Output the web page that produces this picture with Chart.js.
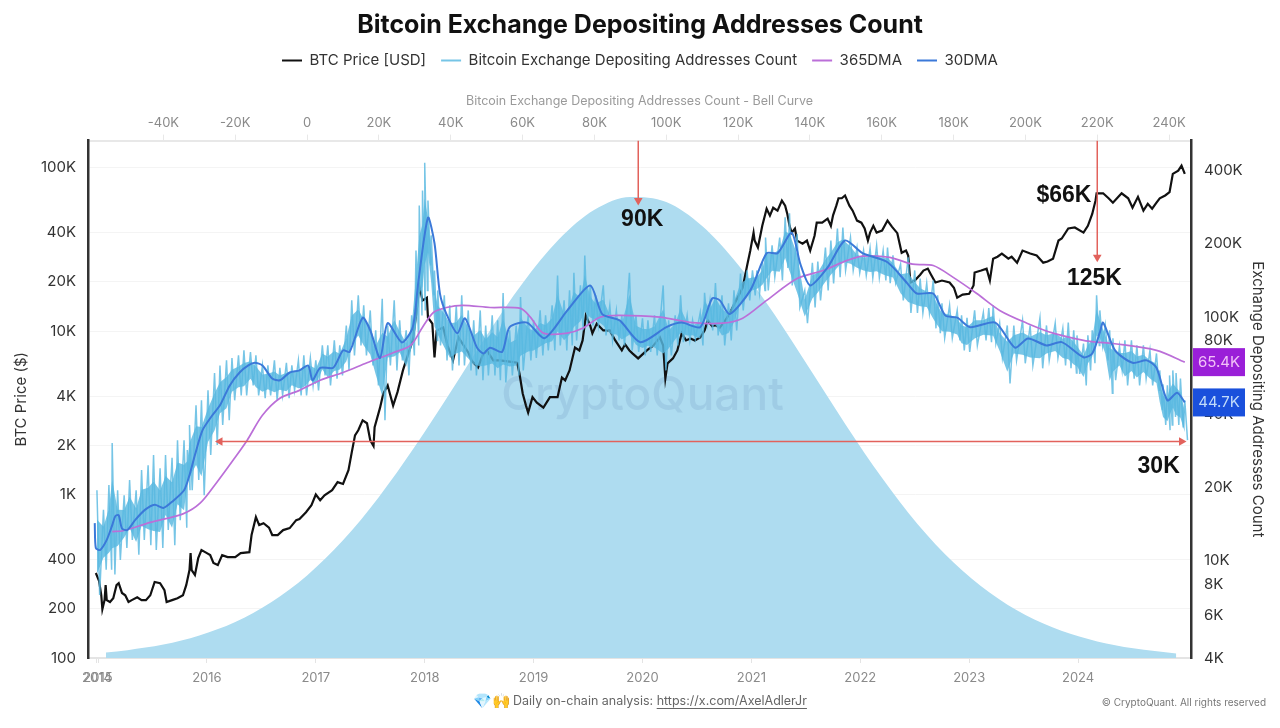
<!DOCTYPE html>
<html>
<head>
<meta charset="utf-8">
<title>Bitcoin Exchange Depositing Addresses Count</title>
<script src="https://cdn.jsdelivr.net/npm/chart.js@4"></script>
<style>
  html, body { margin: 0; padding: 0; background: #fff; }
  canvas { display: block; }
</style>
</head>
<body>
<canvas id="myChart" width="1280" height="728"></canvas>
<script>
// years on the bottom axis, the first two labels sit on top of each other in the original
var yearTicks = [2014.99, 2015, 2016, 2017, 2018, 2019, 2020, 2021, 2022, 2023, 2024];
var yearLabels = ['2014', '2015', '2016', '2017', '2018', '2019', '2020', '2021', '2022', '2023', '2024'];
var bellTicks = [-40, -20, 0, 20, 40, 60, 80, 100, 120, 140, 160, 180, 200, 220, 240];
var priceTicks = [100, 200, 400, 1000, 2000, 4000, 10000, 20000, 40000, 100000];
var countTicks = [4, 6, 8, 10, 20, 40, 60, 80, 100, 200, 400];

var priceDates = [2014.98,2015.01,2015.03,2015.04,2015.06,2015.07,2015.08,2015.11,2015.14,2015.17,2015.19,2015.22,2015.25,2015.28,2015.31,2015.36,2015.40,2015.44,2015.48,2015.52,2015.57,2015.61,2015.63,2015.68,2015.73,2015.78,2015.81,2015.84,2015.85,2015.86,2015.89,2015.92,2015.95,2016.00,2016.03,2016.06,2016.10,2016.14,2016.19,2016.26,2016.31,2016.39,2016.41,2016.45,2016.48,2016.52,2016.57,2016.60,2016.65,2016.70,2016.76,2016.82,2016.85,2016.91,2016.96,2017.00,2017.04,2017.08,2017.15,2017.20,2017.25,2017.30,2017.33,2017.36,2017.39,2017.43,2017.47,2017.50,2017.53,2017.54,2017.59,2017.62,2017.66,2017.71,2017.75,2017.80,2017.85,2017.89,2017.93,2017.95,2017.98,2018.02,2018.03,2018.07,2018.09,2018.11,2018.17,2018.21,2018.26,2018.31,2018.35,2018.40,2018.43,2018.49,2018.53,2018.57,2018.63,2018.69,2018.78,2018.85,2018.87,2018.90,2018.93,2018.95,2018.99,2019.03,2019.09,2019.15,2019.22,2019.26,2019.29,2019.33,2019.38,2019.42,2019.45,2019.48,2019.52,2019.54,2019.58,2019.64,2019.70,2019.75,2019.81,2019.84,2019.88,2019.91,2019.96,2020.00,2020.04,2020.10,2020.16,2020.19,2020.21,2020.23,2020.28,2020.32,2020.36,2020.40,2020.44,2020.48,2020.53,2020.57,2020.60,2020.64,2020.67,2020.71,2020.76,2020.80,2020.86,2020.92,2020.96,2020.99,2021.02,2021.03,2021.06,2021.10,2021.14,2021.17,2021.20,2021.24,2021.28,2021.31,2021.33,2021.35,2021.37,2021.40,2021.42,2021.47,2021.51,2021.54,2021.58,2021.60,2021.65,2021.70,2021.73,2021.75,2021.78,2021.80,2021.83,2021.86,2021.90,2021.93,2021.97,2022.01,2022.04,2022.07,2022.09,2022.12,2022.15,2022.20,2022.25,2022.29,2022.34,2022.38,2022.42,2022.44,2022.46,2022.50,2022.55,2022.58,2022.62,2022.65,2022.69,2022.75,2022.82,2022.86,2022.89,2022.94,2023.00,2023.04,2023.05,2023.11,2023.16,2023.19,2023.22,2023.26,2023.30,2023.36,2023.39,2023.44,2023.49,2023.56,2023.62,2023.68,2023.72,2023.77,2023.82,2023.85,2023.91,2023.97,2024.05,2024.09,2024.13,2024.16,2024.17,2024.23,2024.28,2024.32,2024.37,2024.40,2024.46,2024.50,2024.55,2024.60,2024.64,2024.68,2024.72,2024.75,2024.80,2024.84,2024.87,2024.92,2024.95,2024.98];
var priceValues = [331,295,242,199,226,279,226,220,232,279,287,250,242,220,226,235,226,226,242,292,287,260,220,226,232,242,279,345,438,345,322,408,457,438,426,381,370,426,414,414,438,444,565,727,650,668,627,565,565,606,623,697,708,780,860,1000,923,990,1063,1190,1160,1408,1810,2300,2471,2844,2730,2147,1980,2580,3400,4150,4650,3500,4230,5745,7300,8761,13950,18990,15378,15990,12100,11100,6900,10084,10500,8150,6613,9150,8320,7400,6613,5990,7060,7612,6613,6613,6500,6400,5500,4150,3500,3170,3940,3650,3400,3940,3940,5200,4990,5745,7930,7612,8761,12450,10800,9700,11100,10084,10084,8761,7612,8300,7612,7280,6800,7200,7612,8150,9150,8150,5130,6340,6800,7612,9700,8761,9000,8761,9150,10084,11607,10700,10850,10500,11607,12800,15378,18400,25000,31066,40000,35757,32400,44000,56000,50800,56800,54525,62760,58500,52000,44000,40000,42400,35757,34200,35757,31066,38300,46000,46000,48700,44000,51000,58500,64900,64900,67500,58500,54500,47400,46000,42400,35757,40000,44000,40000,41157,47400,43500,39700,30100,31066,29000,19800,20372,22100,23450,24100,22100,19800,20372,19800,18400,16000,16700,16900,19000,22800,23450,24100,20400,27700,28500,29800,27700,28500,26200,31066,29800,29000,26200,26600,27700,35757,36800,42400,43000,40000,44000,52000,62760,69600,69600,64900,61000,66200,69600,64900,56800,66200,54500,60000,56000,61000,64900,67500,70700,91500,95700,102800,91500];

// daily count in thousands, read as the top and bottom of the noisy band
var depositDates = [2014.99,2015.05,2015.10,2015.13,2015.18,2015.24,2015.29,2015.35,2015.40,2015.46,2015.51,2015.57,2015.62,2015.68,2015.73,2015.79,2015.82,2015.84,2015.90,2015.95,2016.01,2016.07,2016.12,2016.18,2016.23,2016.29,2016.34,2016.40,2016.45,2016.51,2016.56,2016.62,2016.67,2016.73,2016.78,2016.84,2016.89,2016.95,2017.00,2017.06,2017.11,2017.17,2017.22,2017.28,2017.33,2017.39,2017.44,2017.50,2017.55,2017.61,2017.66,2017.72,2017.77,2017.83,2017.88,2017.92,2017.95,2017.98,2018.00,2018.03,2018.06,2018.09,2018.12,2018.18,2018.23,2018.29,2018.34,2018.40,2018.45,2018.51,2018.56,2018.62,2018.67,2018.72,2018.78,2018.84,2018.88,2018.95,2019.00,2019.06,2019.11,2019.17,2019.22,2019.28,2019.33,2019.37,2019.43,2019.47,2019.52,2019.57,2019.64,2019.70,2019.76,2019.81,2019.88,2019.94,2020.00,2020.05,2020.11,2020.19,2020.24,2020.30,2020.35,2020.41,2020.46,2020.53,2020.57,2020.62,2020.67,2020.73,2020.79,2020.84,2020.90,2020.96,2021.01,2021.05,2021.10,2021.13,2021.19,2021.26,2021.31,2021.35,2021.42,2021.49,2021.56,2021.61,2021.68,2021.73,2021.79,2021.84,2021.91,2021.97,2022.03,2022.09,2022.15,2022.21,2022.25,2022.30,2022.37,2022.44,2022.50,2022.55,2022.61,2022.67,2022.71,2022.75,2022.82,2022.89,2022.93,2022.98,2023.05,2023.13,2023.18,2023.22,2023.28,2023.35,2023.41,2023.49,2023.56,2023.65,2023.71,2023.79,2023.86,2023.91,2023.96,2023.99,2024.05,2024.09,2024.13,2024.17,2024.20,2024.25,2024.29,2024.32,2024.38,2024.43,2024.49,2024.54,2024.60,2024.66,2024.72,2024.75,2024.78,2024.82,2024.84,2024.87,2024.90,2024.94,2024.98];
var depositHighK = [19.5,16.2,20.5,30.5,19.5,18.6,21.5,19.5,23.6,24.7,27.2,24,27.2,26.5,31.3,31.3,28.5,36.1,43.5,45.6,50.1,59,63.4,66.5,68,69.7,73.1,72,69.7,63.4,63.4,66.5,62,65,63.4,66.5,69.7,68,66.5,76.6,76.6,80.3,76.6,92.5,117.2,122.9,111.8,106.6,88.3,119,92.5,117.2,97,88.3,101.7,187.8,287.4,331,430,301,216.5,155.5,128.8,122.9,111.8,111.8,122.9,106.6,97,106.6,92.5,101.7,97,125.5,88.3,92.5,121,101.7,97,106.6,101.7,111.8,148.3,117.2,128.8,152,135,179.2,135,122.9,135,111.8,106.6,101.7,152,101.7,99,97,101.7,135,97,101.7,122.9,101.7,97,104.5,126,117.2,138,122.9,114,128.8,151,155.5,155.5,155.5,167,212,197,212,257,267,220,128.8,167,169,193,206.4,231,233,212,193,187.8,192,197,187.8,193,179.2,165,176,155.5,144,138,141.5,122.9,114,111.8,106.6,101.7,99.5,106.6,104.5,109,111.8,94.5,92.5,92.5,97,92.5,99.5,92.5,94.5,90,95,88.3,84.2,78,84.2,88.3,122.9,106.6,92.5,88.3,82,76,80.3,80.3,76.6,76.6,73.1,71,60.5,53,52.5,57.7,60.5,59,56,45.6];
var depositLowK = [7.25,9.2,9.2,8.8,10.1,11.3,12.2,10.6,12.2,11.6,11.1,11.3,13.4,11.6,14.7,13.7,19.5,19.5,21.5,18.6,27.2,29.9,36.1,37.8,45.6,47.8,47.8,52.5,47.8,46.5,47.8,45.6,47.8,46.5,50.1,47.8,47.8,52.5,50.1,57.7,52.5,56,57.7,60.5,69.7,76.6,69.7,63.4,52.5,37.8,63.4,60.5,66.5,57.7,69.7,76.6,101.7,106.6,128.8,163,122.9,80.3,76.6,66.5,60.5,63.4,63.4,60.5,57.7,55.1,57.7,57.7,55.1,54,57.7,57.7,60.5,66.5,68,69.7,73.1,73.1,76.6,73.1,76.6,80.3,88.3,92.5,92.5,92.5,84.2,80.3,80.3,76.6,73.1,72,69.7,72,69.7,60.5,69.7,76.6,79,80.3,81.5,76.6,94.5,88.3,84.2,76.6,80.3,88.3,106.6,117.2,122.9,125,128.8,128.8,146,141.5,159,135,109.6,94.5,109.6,117.2,128.8,137.5,146,155.5,155.5,152,148.3,145,145,141.5,138,138,117.2,104,104,104,104,90,86,82,82,80.3,73.1,72,76.6,80.3,79,78,68,53.5,66.5,64.7,63.4,61.7,66.5,68,63.4,61.7,59,58.5,52.5,60.5,64.7,76.6,76.6,66.5,48.7,55.1,60.5,52.5,56,52.5,56,52.5,50.1,41.5,36.1,34.4,36.1,39,36.1,35.3,31.3];

var ma365Dates = [2015.13,2015.23,2015.48,2015.78,2015.94,2016.09,2016.24,2016.37,2016.51,2016.67,2016.85,2017.04,2017.25,2017.47,2017.71,2017.87,2017.98,2018.08,2018.20,2018.35,2018.60,2018.88,2018.97,2019.09,2019.31,2019.45,2019.61,2019.79,2020.16,2020.46,2020.74,2020.92,2021.14,2021.42,2021.66,2021.88,2022.02,2022.27,2022.48,2022.67,2022.85,2023.07,2023.28,2023.53,2023.77,2024.05,2024.17,2024.32,2024.72,2024.98];
var ma365K = [13.2,13.3,14.4,15.6,17.3,21,25.9,31.3,39.6,46.5,50.1,55.1,59.3,65,71.5,76.6,91,104.5,109.6,111.8,109.6,108.6,100,86,86,90,100,101.7,100,95,94.5,99,117.2,144,155.5,171,178,176,165,163,146,125,106.6,94.5,86,80.3,79,78,73.1,65.4];

var ma30Dates = [2014.97,2014.98,2015.02,2015.08,2015.13,2015.16,2015.19,2015.22,2015.27,2015.34,2015.43,2015.52,2015.60,2015.68,2015.79,2015.84,2015.89,2015.96,2016.05,2016.12,2016.21,2016.30,2016.38,2016.44,2016.51,2016.60,2016.67,2016.76,2016.85,2016.93,2016.97,2017.04,2017.16,2017.25,2017.31,2017.43,2017.50,2017.59,2017.66,2017.79,2017.89,2017.94,2018.03,2018.09,2018.14,2018.20,2018.30,2018.37,2018.48,2018.54,2018.60,2018.71,2018.78,2018.94,2019.10,2019.31,2019.52,2019.63,2019.79,2019.98,2020.22,2020.36,2020.53,2020.64,2020.71,2020.80,2020.99,2021.14,2021.24,2021.37,2021.45,2021.54,2021.70,2021.86,2022.02,2022.25,2022.43,2022.52,2022.67,2022.78,2022.89,2023.01,2023.24,2023.42,2023.54,2023.71,2023.85,2024.05,2024.13,2024.20,2024.23,2024.34,2024.50,2024.63,2024.72,2024.82,2024.91,2024.98];
var ma30K = [14.3,11.3,11.1,12.2,14,15.3,15.4,13.6,13.4,14.7,16.2,17,16.5,17.5,19.5,22.5,27.2,34.4,39.6,43.5,52.5,59.3,63.4,65,63.4,56,55.1,59.3,60.5,63.4,55.1,62,62,73.1,72,99.5,88.3,68,94.5,78.8,91,137.5,256,201,125,103,86,99,75,71,75,72,91,95,82,106.6,135,103,97,79,91,95,91,119.5,117.2,103,128.8,183,183,222,165,135,160,206.4,183,168,138,125,125,101.7,99.5,91,95,75,81.8,76.6,79,68.5,71,86.6,95,73.1,65,66.5,62,45.6,49,44.7];

// bell curve, address count in thousands against share of the peak height
var bellCounts = [-56,-50,-40,-30,-20,-10,0,10,20,30,40,50,60,70,80,90,100,110,120,130,140,150,160,170,180,190,200,210,220,230,242];
var bellShare = [1.2,1.7,2.9,4.9,7.8,12.1,17.9,25.5,34.9,45.8,57.7,69.9,81.2,90.6,97.1,99.9,98.8,93.6,85.2,74.6,62.6,50.5,39.1,29,20.7,14.2,9.3,5.9,3.6,2.1,1];

var peakArrowCounts = [92.2, 92.2];
var peakArrowK = [530, 301];
var spikeArrowCounts = [220, 220];
var spikeArrowK = [530, 176];
var lowArrowDates = [2016.12, 2024.95];
var lowArrowK = [30.9, 30.9];

var lastMa365 = '65.4K';
var lastMa30 = '44.7K';

function toPoints(xs, ys) {
  return xs.map(function (x, i) { return { x: x, y: ys[i] }; });
}

// high and low in turn, so the line scribbles up and down like the daily data
var depositPoints = [];
// the dense middle of that band gets a solid fill
var coreTop = [];
var coreBottom = [];
depositDates.forEach(function (d, i) {
  var hi = depositHighK[i];
  var lo = depositLowK[i];
  depositPoints.push({ x: d, y: hi });
  depositPoints.push({ x: d + 0.025, y: lo });
  coreTop.push({ x: d, y: Math.pow(hi, 0.72) * Math.pow(lo, 0.28) });
  coreBottom.push({ x: d, y: Math.pow(hi, 0.2) * Math.pow(lo, 0.8) });
});

function shortNumber(v) {
  if (v >= 1000) return (v / 1000) + 'K';
  return '' + v;
}

function arrowSet(pts, xAxis, rotations, radii) {
  return {
    label: 'arrow',
    data: pts,
    xAxisID: xAxis,
    yAxisID: 'yCount',
    borderColor: '#e2625c',
    backgroundColor: '#e2625c',
    borderWidth: 1.5,
    pointStyle: 'triangle',
    pointRadius: radii,
    pointRotation: rotations,
    pointBorderWidth: 0,
    order: 0
  };
}

var labelsPlugin = {
  id: 'labelsPlugin',
  // the watermark sits on the bell but below the lines
  afterDatasetDraw: function (chart, args) {
    if (args.index !== 0) return;
    var ctx = chart.ctx;
    ctx.save();
    ctx.font = '500 46px Inter, sans-serif';
    ctx.fillStyle = 'rgba(110, 150, 190, 0.22)';
    ctx.textAlign = 'center';
    ctx.textBaseline = 'middle';
    ctx.fillText('CryptoQuant', chart.scales.x.getPixelForValue(2020), 396);
    ctx.restore();
  },
  afterDraw: function (chart) {
    var ctx = chart.ctx;
    var x = chart.scales.x;
    var xBell = chart.scales.xBell;
    var yCount = chart.scales.yCount;
    var yPrice = chart.scales.yPrice;
    ctx.save();

    // bold notes on the chart
    ctx.font = 'bold 23px "Liberation Sans", Arial, sans-serif';
    ctx.fillStyle = '#111';
    ctx.textAlign = 'center';
    ctx.textBaseline = 'middle';
    ctx.fillText('90K', xBell.getPixelForValue(93.3), yCount.getPixelForValue(252));
    ctx.fillText('$66K', x.getPixelForValue(2023.87), yPrice.getPixelForValue(67500));
    ctx.fillText('125K', x.getPixelForValue(2024.15), yCount.getPixelForValue(144));
    ctx.fillText('30K', x.getPixelForValue(2024.74), yCount.getPixelForValue(24.3));

    // last value badges on the right axis
    var badgeLeft = 1193;
    var badgeWidth = 52;
    ctx.font = '15px Inter, sans-serif';
    var y1 = yCount.getPixelForValue(65.4);
    ctx.fillStyle = '#9a1fd8';
    ctx.fillRect(badgeLeft, y1 - 14, badgeWidth, 28);
    ctx.fillStyle = '#f2c2f7';
    ctx.fillText(lastMa365, badgeLeft + badgeWidth / 2, y1);
    var y2 = yCount.getPixelForValue(44.7);
    ctx.fillStyle = '#1a50dc';
    ctx.fillRect(badgeLeft, y2 - 14, badgeWidth, 28);
    ctx.fillStyle = '#c2dcfa';
    ctx.fillText(lastMa30, badgeLeft + badgeWidth / 2, y2);

    // footer
    ctx.textAlign = 'left';
    ctx.font = '15px Inter, sans-serif';
    ctx.fillStyle = '#666';
    ctx.fillText('💎🙌', 473, 701);
    ctx.font = '12.5px Inter, sans-serif';
    var footText = 'Daily on-chain analysis: ';
    var link = 'https://x.com/AxelAdlerJr';
    ctx.fillText(footText, 513, 701);
    var linkX = 513 + ctx.measureText(footText).width;
    ctx.fillText(link, linkX, 701);
    var linkW = ctx.measureText(link).width;
    ctx.fillRect(linkX, 708, linkW, 1);
    ctx.font = '10px Inter, sans-serif';
    ctx.fillStyle = '#777';
    ctx.textAlign = 'right';
    ctx.fillText('© CryptoQuant. All rights reserved', 1266, 703);
    ctx.restore();
  }
};

var config = {
  type: 'line',
  data: {
    datasets: [
      {
        label: 'Bell Curve',
        data: toPoints(bellCounts, bellShare),
        xAxisID: 'xBell',
        yAxisID: 'yBell',
        borderWidth: 0,
        borderColor: 'rgba(0,0,0,0)',
        backgroundColor: '#aedcf0',
        fill: 'origin',
        cubicInterpolationMode: 'monotone',
        pointRadius: 0,
        order: 7
      },
      {
        label: 'BTC Price [USD]',
        data: toPoints(priceDates, priceValues),
        xAxisID: 'x',
        yAxisID: 'yPrice',
        borderColor: '#111111',
        backgroundColor: '#111111',
        borderWidth: 2.2,
        pointRadius: 0,
        order: 6
      },
      {
        label: 'band',
        data: coreTop,
        xAxisID: 'x',
        yAxisID: 'yCount',
        borderWidth: 0,
        borderColor: 'rgba(0,0,0,0)',
        backgroundColor: 'rgba(88, 184, 224, 0.82)',
        fill: '+1',
        pointRadius: 0,
        order: 5
      },
      {
        label: 'band',
        data: coreBottom,
        xAxisID: 'x',
        yAxisID: 'yCount',
        borderWidth: 0,
        borderColor: 'rgba(0,0,0,0)',
        pointRadius: 0,
        order: 5
      },
      {
        label: 'Bitcoin Exchange Depositing Addresses Count',
        data: depositPoints,
        xAxisID: 'x',
        yAxisID: 'yCount',
        borderColor: 'rgba(88, 184, 224, 0.82)',
        backgroundColor: 'rgba(88, 184, 224, 0.82)',
        borderWidth: 1.5,
        pointRadius: 0,
        order: 4
      },
      {
        label: '365DMA',
        data: toPoints(ma365Dates, ma365K),
        xAxisID: 'x',
        yAxisID: 'yCount',
        borderColor: '#bb6fd8',
        backgroundColor: '#bb6fd8',
        borderWidth: 1.7,
        tension: 0.3,
        pointRadius: 0,
        order: 3
      },
      {
        label: '30DMA',
        data: toPoints(ma30Dates, ma30K),
        xAxisID: 'x',
        yAxisID: 'yCount',
        borderColor: '#3b79d9',
        backgroundColor: '#3b79d9',
        borderWidth: 2,
        tension: 0.25,
        pointRadius: 0,
        order: 2
      },
      arrowSet(toPoints(peakArrowCounts, peakArrowK), 'xBell', [0, 180], [0, 5]),
      arrowSet(toPoints(spikeArrowCounts, spikeArrowK), 'xBell', [0, 180], [0, 5]),
      arrowSet(toPoints(lowArrowDates, lowArrowK), 'x', [-90, 90], [5, 5])
    ]
  },
  options: {
    responsive: false,
    animation: false,
    events: [],
    layout: { padding: { top: 10 } },
    plugins: {
      tooltip: { enabled: false },
      title: {
        display: true,
        text: 'Bitcoin Exchange Depositing Addresses Count',
        color: '#111',
        font: { family: 'Inter, sans-serif', size: 25, weight: '700' },
        padding: { top: 0, bottom: -2 }
      },
      legend: {
        display: true,
        position: 'top',
        labels: {
          color: '#333',
          boxWidth: 20,
          boxHeight: 2,
          padding: 15,
          font: { family: 'Inter, sans-serif', size: 15 },
          filter: function (item) {
            return item.text !== 'arrow' && item.text !== 'Bell Curve' && item.text !== 'band';
          },
          sort: function (a, b) { return a.datasetIndex - b.datasetIndex; },
          generateLabels: function (chart) {
            var items = Chart.defaults.plugins.legend.labels.generateLabels(chart);
            items.forEach(function (it) {
              it.fillStyle = it.strokeStyle;
              it.lineWidth = 0;
            });
            return items;
          }
        }
      }
    },
    scales: {
      x: {
        type: 'linear',
        position: 'bottom',
        min: 2014.908,
        max: 2025.037,
        border: { color: '#e4e4e4', width: 2 },
        grid: { drawOnChartArea: false, color: '#e4e4e4', tickLength: 5 },
        afterBuildTicks: function (axis) {
          axis.ticks = yearTicks.map(function (v) { return { value: v }; });
        },
        afterFit: function (axis) { axis.height = 70; },
        ticks: {
          autoSkip: false,
          maxRotation: 0,
          color: '#8a8a8a',
          padding: 7,
          font: { family: 'Inter, sans-serif', size: 13 },
          callback: function (v, i) { return yearLabels[i]; }
        }
      },
      xBell: {
        type: 'linear',
        position: 'top',
        min: -61,
        max: 246.1,
        border: { color: '#e8e8e8', width: 2 },
        grid: { drawOnChartArea: false, color: '#e8e8e8', tickLength: 6 },
        title: {
          display: true,
          text: 'Bitcoin Exchange Depositing Addresses Count - Bell Curve',
          color: '#9a9a9a',
          font: { family: 'Inter, sans-serif', size: 12.5 },
          padding: { top: 16, bottom: 2 }
        },
        afterBuildTicks: function (axis) {
          axis.ticks = bellTicks.map(function (v) { return { value: v }; });
        },
        ticks: {
          autoSkip: false,
          maxRotation: 0,
          color: '#8a8a8a',
          padding: 4,
          font: { family: 'Inter, sans-serif', size: 13 },
          callback: function (v) { return v === 0 ? '0' : v + 'K'; }
        }
      },
      yPrice: {
        type: 'logarithmic',
        position: 'left',
        min: 100,
        max: 146200,
        border: { color: '#333', width: 2.5 },
        grid: { color: '#f4f4f4', drawTicks: false },
        title: {
          display: true,
          text: 'BTC Price ($)',
          color: '#333',
          font: { family: 'Inter, sans-serif', size: 15 },
          padding: { top: 12, bottom: 0 }
        },
        afterBuildTicks: function (axis) {
          axis.ticks = priceTicks.map(function (v) { return { value: v }; });
        },
        afterFit: function (axis) { axis.width = 88; },
        ticks: {
          autoSkip: false,
          color: '#333',
          padding: 12,
          font: { family: 'Inter, sans-serif', size: 15 },
          callback: function (v) { return shortNumber(v); }
        }
      },
      yCount: {
        type: 'logarithmic',
        position: 'right',
        min: 4,
        max: 530,
        border: { color: '#333', width: 2.5 },
        grid: { drawOnChartArea: false, drawTicks: false },
        title: {
          display: true,
          text: 'Exchange Depositing Addresses Count',
          color: '#333',
          font: { family: 'Inter, sans-serif', size: 15 },
          padding: { top: 13, bottom: 0 }
        },
        afterBuildTicks: function (axis) {
          axis.ticks = countTicks.map(function (v) { return { value: v }; });
        },
        afterFit: function (axis) { axis.width = 89; },
        ticks: {
          autoSkip: false,
          color: '#333',
          padding: 13,
          font: { family: 'Inter, sans-serif', size: 15 },
          callback: function (v) { return v + 'K'; }
        }
      },
      yBell: {
        type: 'linear',
        display: false,
        min: 0,
        max: 112.1
      }
    }
  },
  plugins: [labelsPlugin]
};

var myChart = new Chart(document.getElementById('myChart'), config);
</script>
</body>
</html>
